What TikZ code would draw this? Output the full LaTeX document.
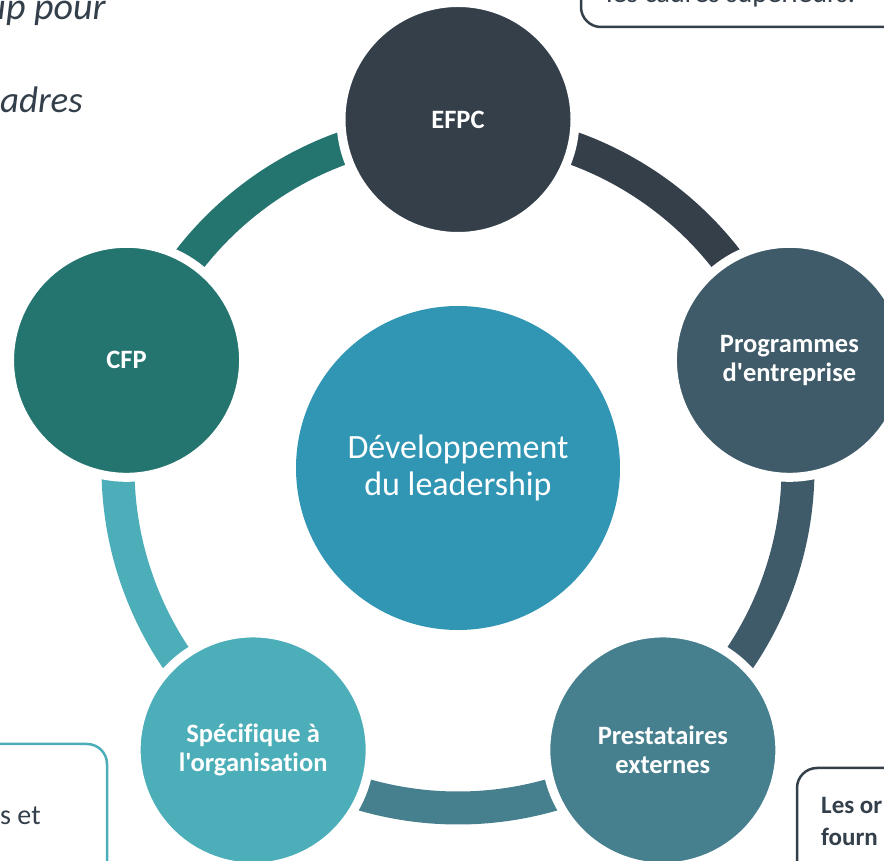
\documentclass[tikz,border=0pt]{standalone}
\usepackage{fontspec}
\setmainfont{Carlito}[Ligatures={TeXOff,NoCommon}]
\usetikzlibrary{calc}
\definecolor{efpcC}{HTML}{343F4A}
\definecolor{progC}{HTML}{3F5B69}
\definecolor{prestC}{HTML}{467F8D}
\definecolor{specC}{HTML}{4CAEB8}
\definecolor{cfpC}{HTML}{24756F}
\definecolor{coreC}{HTML}{3195B4}
\definecolor{txtC}{HTML}{333F4A}
\begin{document}
\begin{tikzpicture}[x=1pt,y=1pt,
  sat/.style={circle, minimum size=234pt, inner sep=0pt, draw=white,
    line width=9pt, text=white, align=center,
    font=\bfseries\fontsize{26.5}{29}\selectfont},
  core/.style={circle, minimum size=324pt, inner sep=0pt, fill=coreC,
    text=white, align=center, font=\fontsize{34}{37}\selectfont},
  ringseg/.style={line width=33pt},
  callout/.style={line width=2.5pt, rounded corners=20pt},
  side/.style={inner sep=0pt, text=txtC}]
\useasboundingbox (0,0) rectangle (884,860);
\clip (0,0) rectangle (884,860);

\coordinate (O) at (458,392);

% ring segments, each in the colour of the circle it leaves
\draw[ringseg, efpcC]  ([shift={(90:340)}]O)   arc[start angle=90,   end angle=18,   radius=340];
\draw[ringseg, progC]  ([shift={(18:340)}]O)   arc[start angle=18,   end angle=-54,  radius=340];
\draw[ringseg, prestC] ([shift={(-54:340)}]O)  arc[start angle=-54,  end angle=-126, radius=340];
\draw[ringseg, specC]  ([shift={(-126:340)}]O) arc[start angle=-126, end angle=-198, radius=340];
\draw[ringseg, cfpC]   ([shift={(162:340)}]O)  arc[start angle=162,  end angle=90,   radius=340];

% centre
\node[core] (core) at (O) {Développement\\du leadership};

% satellites
\node[sat, fill=efpcC]  (efpc)  at ([shift={(90:348.5)}]O)   {EFPC};
\node[sat, fill=progC]  (prog)  at ([shift={(18:348.5)}]O)   {Programmes\\d'entreprise};
\node[sat, fill=prestC] (prest) at ([shift={(-54:348.5)}]O)  {Prestataires\\externes};
\node[sat, fill=specC]  (spec)  at ([shift={(-126:348.5)}]O) {Spécifique à\\l'organisation};
\node[sat, fill=cfpC]   (cfp)   at ([shift={(162:348.5)}]O)  {CFP};

% surrounding text and callouts
\node[side, anchor=base east, font=\itshape\fontsize{38}{44}\selectfont] (tl1) at (106,840) {ip pour};
\node[side, anchor=base east, font=\itshape\fontsize{37}{44}\selectfont] (tl2) at (83,747) {adres};

\draw[callout, efpcC] (581,900) -- (581,833) -- (920,833);
\node[side, anchor=base west, font=\fontsize{28.5}{33}\selectfont] (tr) at (606,857) {les cadres supérieurs.};

\draw[callout, specC] (-40,116) -- (107,116) -- (107,-40);
\node[side, anchor=base west, font=\fontsize{28}{32}\selectfont] (bl) at (0,36) {s et};

\draw[callout, efpcC] (797,-40) -- (797,92) -- (920,92);
\node[side, anchor=base west, font=\bfseries\fontsize{25}{29}\selectfont] (br1) at (821,46) {Les or};
\node[side, anchor=base west, font=\bfseries\fontsize{25}{29}\selectfont] (br2) at (821,15) {fourn};
\end{tikzpicture}
\end{document}
